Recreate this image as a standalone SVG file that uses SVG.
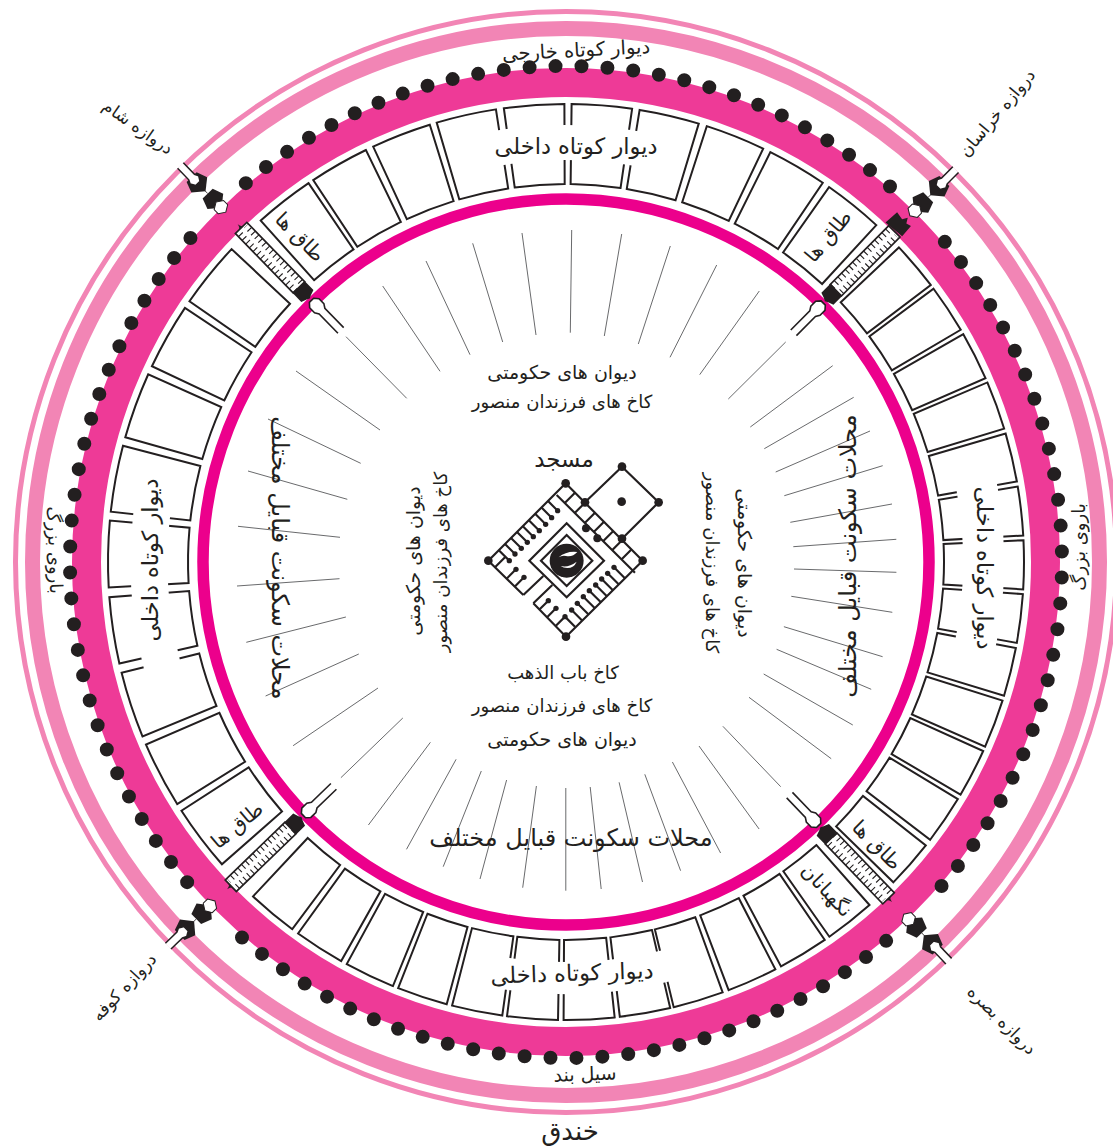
<svg xmlns="http://www.w3.org/2000/svg" xmlns:xlink="http://www.w3.org/1999/xlink" width="1113" height="1146" viewBox="0 0 1113 1146">
<style>
text{font-family:"DejaVu Sans","Noto Sans",sans-serif;fill:#231f20;text-anchor:middle}
.cell{fill:#fff;stroke:#231f20;stroke-width:2;stroke-linejoin:miter}
.ring{fill:none}
.ray{stroke:#58595b;stroke-width:.9;fill:none}
.brk{fill:none;stroke:#fff}
.dk{fill:#231f20}
.t17{font-size:17px}.t18{font-size:18px}.t19{font-size:19px}.t20{font-size:20px}.t22{font-size:22.5px}.t23{font-size:23px}.t24{font-size:24px}.t26{font-size:26px}
</style>
<defs>
<path id="cT" class="cell" d="M-30.35 -457A458 458 0 0 1 30.35 -457L25.05 -377.17A378 378 0 0 0 -25.05 -377.17Z"/>
<path id="cL" class="cell" d="M-33.54 -456.77A458 458 0 0 1 33.54 -456.77L27.68 -376.98A378 378 0 0 0 -27.68 -376.98Z"/>
<path id="cR" class="cell" d="M-24.61 -457.34A458 458 0 0 1 24.61 -457.34L20.31 -377.46A378 378 0 0 0 -20.31 -377.46Z"/>
<path id="cB" class="cell" d="M-25.57 -457.29A458 458 0 0 1 25.57 -457.29L21.1 -377.41A378 378 0 0 0 -21.1 -377.41Z"/>
<g id="gateInner">
<path d="M-4 -323V-350L-6.5 -354V-361L-3 -365H3L6.5 -361V-354L4 -350V-323" fill="#fff" stroke="#231f20" stroke-width="1.6"/>
<path class="dk" d="M-8.5 -371L-3 -369 0 -367.5 3 -369 8.5 -371V-383H-8.5Z"/>
<rect x="-8" y="-466" width="16" height="83" fill="#fff" stroke="#231f20" stroke-width="1.7"/>
<path d="M-5 -383V-464" fill="none" stroke="#231f20" stroke-width="6" stroke-dasharray="1.1 4.1"/>
<path d="M5 -383V-464" fill="none" stroke="#231f20" stroke-width="6" stroke-dasharray="1.1 4.1" stroke-dashoffset="2.5"/>
</g>
<g id="gateOuter">
<path d="M-11 -503L0 -494 11 -503 7 -514H-7Z" class="dk"/>
<path d="M0 -514V-518" stroke="#231f20" stroke-width=".8"/>
<path d="M-7 -537L-11 -526 0 -517 11 -526 7 -537Z" class="dk"/>
<path d="M-6.5 -492L-6.5 -498 0 -502 6.5 -498V-492L0 -488Z" fill="#fff" stroke="#231f20" stroke-width="1"/>
<path d="M-4 -553V-537L-6 -533 -3 -528H3L6 -533 4 -537V-553" fill="#fff" stroke="#231f20" stroke-width="1.5"/>
</g>
<path id="notch" d="M-3 -466Q-.5 -467 0 -471Q.5 -467 3 -466Z" class="dk"/>
</defs>

<g id="rings">
<circle class="ring" cx="566" cy="562" r="550.5" stroke="#f285b5" stroke-width="5"/>
<circle class="ring" cx="566" cy="562" r="533.5" stroke="#f285b5" stroke-width="15"/>
<circle class="ring" cx="566" cy="562" r="479.5" stroke="#ee3a97" stroke-width="29"/>
<circle class="ring" cx="566" cy="562" r="363" stroke="#ec008c" stroke-width="11.5"/>
</g>
<g id="tower-dots" fill="none" stroke="#231f20" stroke-width="14" stroke-linecap="round" stroke-dasharray="0 25.96">
<path d="M944.84 241.83A496 496 0 0 1 941.47 886.09"/>
<path d="M886.17 940.84A496 496 0 0 1 241.91 937.47"/>
<path d="M187.16 882.17A496 496 0 0 1 190.53 237.91"/>
<path d="M245.83 183.16A496 496 0 0 1 890.09 186.53"/>
</g>

<g id="cells" transform="translate(566 562)">
<use xlink:href="#cT" transform="rotate(-38)"/><use xlink:href="#cT" transform="rotate(-29.7)"/><use xlink:href="#cT" transform="rotate(-21.1)"/><use xlink:href="#cT" transform="rotate(-12.6)"/><use xlink:href="#cT" transform="rotate(-4)"/><use xlink:href="#cT" transform="rotate(4.5)"/><use xlink:href="#cT" transform="rotate(13.05)"/><use xlink:href="#cT" transform="rotate(21.7)"/><use xlink:href="#cT" transform="rotate(30.3)"/><use xlink:href="#cT" transform="rotate(38.85)"/>
<use xlink:href="#cR" transform="rotate(49.7)"/><use xlink:href="#cR" transform="rotate(56.45)"/><use xlink:href="#cR" transform="rotate(63.25)"/><use xlink:href="#cR" transform="rotate(70)"/><use xlink:href="#cR" transform="rotate(76.8)"/><use xlink:href="#cR" transform="rotate(83.6)"/><use xlink:href="#cR" transform="rotate(90.35)"/><use xlink:href="#cR" transform="rotate(97.1)"/><use xlink:href="#cR" transform="rotate(103.9)"/><use xlink:href="#cR" transform="rotate(110.7)"/><use xlink:href="#cR" transform="rotate(117.45)"/><use xlink:href="#cR" transform="rotate(124.25)"/><use xlink:href="#cR" transform="rotate(131.3)"/>
<use xlink:href="#cB" transform="rotate(141.7)"/><use xlink:href="#cB" transform="rotate(148.8)"/><use xlink:href="#cB" transform="rotate(156)"/><use xlink:href="#cB" transform="rotate(163.2)"/><use xlink:href="#cB" transform="rotate(170.05)"/><use xlink:href="#cB" transform="rotate(177.1)"/><use xlink:href="#cB" transform="rotate(184.2)"/><use xlink:href="#cB" transform="rotate(191.2)"/><use xlink:href="#cB" transform="rotate(198.3)"/><use xlink:href="#cB" transform="rotate(205.4)"/><use xlink:href="#cB" transform="rotate(212.6)"/><use xlink:href="#cB" transform="rotate(219.9)"/>
<use xlink:href="#cL" transform="rotate(232.9)"/><use xlink:href="#cL" transform="rotate(242.3)"/><use xlink:href="#cL" transform="rotate(251.8)"/><use xlink:href="#cL" transform="rotate(261.4)"/><use xlink:href="#cL" transform="rotate(271)"/><use xlink:href="#cL" transform="rotate(280.5)"/><use xlink:href="#cL" transform="rotate(290)"/><use xlink:href="#cL" transform="rotate(299.5)"/><use xlink:href="#cL" transform="rotate(308.9)"/>
</g>
<g id="text-breaks">
<path class="brk" stroke-width="35" d="M482.35 150.93A419.5 419.5 0 0 1 653.22 151.68"/>
<path class="brk" stroke-width="32" d="M680.66 961.9A416 416 0 0 1 493.78 971.68"/>
<path class="brk" stroke-width="41" d="M972.8 468.06A417.5 417.5 0 0 1 971.1 663"/>
<path class="brk" stroke-width="37" d="M163.2 669.9A417 417 0 0 1 154.1 496.8"/>
</g>

<g id="gate-khorasan" transform="translate(566 562) rotate(44.8)">
<use xlink:href="#gateInner"/><use xlink:href="#gateOuter"/>
<path class="dk" d="M-12.5 -466L9 -468 8 -481.5 3 -480 0 -485 -3 -480 -11.5 -481.5Z"/>
</g>
<g id="gate-basra" transform="translate(566 562) rotate(136.2)"><use xlink:href="#gateInner"/><use xlink:href="#notch"/><use xlink:href="#gateOuter"/></g>
<g id="gate-kufa" transform="translate(566 562) rotate(226)"><use xlink:href="#gateInner"/><use xlink:href="#notch"/><use xlink:href="#gateOuter"/></g>
<g id="gate-sham" transform="translate(566 562) rotate(315.8)"><use xlink:href="#gateInner"/><use xlink:href="#notch"/><use xlink:href="#gateOuter"/></g>

<g id="rays" class="ray">
<path d="M522 233L536 335M472.7 243.3L502.7 342M426 261L470 354.7M382.7 286L440 371.3M346 336.7L406.7 398.3M296 371L380 430M268 419L360.7 463.3M248 471L347.3 499.3M238 526.3L340 537.3"/>
<path d="M571.7 230L570.3 332.7M621.7 234L604.3 336M670.3 246L638.3 344M716.7 265L670 357.3M759.3 291L699.7 374.7M785.7 342L728.3 399M832.7 365.7L750.3 427M853.7 397.3L764.3 448.7M870 431L775.7 472M882.7 465.7L784.3 495.7M892 504L790.3 522.3M896.3 539.3L793.3 546.7"/>
<path d="M237 586L339.5 578.7M246.3 642.3L345.9 617M265.6 696L358.8 654M293.1 745.7L378 688M340.9 777.7L402.8 718M368.4 825L430.4 742.3M406.5 849.3L456.1 759.3M443.2 866.7L481.3 771M480 879L506.6 780M522.7 887.7L536.4 786M565.8 890.7V788M601.2 889L590.2 787M642.5 882L619.1 782.3M680.6 870.7L644.8 774.3M720.6 853L672.4 762M759.1 829L699 746M780.7 786.7L722.9 726.3M831.2 758.7L749 697.3M852.8 725L763.7 674M871.2 689.3L776.6 649.3M882.6 656.7L783.9 626.7M892.3 612.3L791.3 596.3M896.4 572.3L794 569"/>
</g>

<g id="mosque" transform="translate(460 440) scale(.3333)">
<g fill="none" stroke="#231f20" stroke-width="6.5">
<path d="M190 465L85 362 317 130 548 362 318 590 220 490"/>
<path d="M190 465L250 408M220 490L277 435M290 165L525 398"/>
<path d="M375 187L486 80 596 187 486 296"/>
<path d="M345 158L315 188M375 188L345 218M405 218L375 248M432 245L402 275M460 273L430 303M487 300L457 330M515 328L485 358"/>
<path d="M264 183L293 212M244.5 202.5L275 233M225.5 221.5L257 253M206.5 240.5L238 272M188.5 258.5L220 290M171 276L202 307M153 294L184 325M135 312L165 342M116.5 330.5L148 362M105 382L135 352"/>
<path d="M140 416L168 388M164 440L192 412M239 508L265 482M262 531L288 505M287 558L315 530L345 560"/>
<path d="M367 542L335 510M385 523L352 490M404 504L370 470M422 486L388 452M440 468L407 435M458 450L425 417M476 433L443 400M494 414L462 382"/>
<path d="M320 250L432 362 320 472 208 362Z"/>
<path d="M320 285L397 362 320 438 243 362Z"/>
</g>
<g class="dk">
<circle cx="317" cy="130" r="13"/><circle cx="85" cy="362" r="13"/><circle cx="318" cy="590" r="13"/><circle cx="548" cy="362" r="13"/>
<circle cx="486" cy="80" r="13"/><circle cx="375" cy="187" r="13"/><circle cx="486" cy="296" r="13"/><circle cx="596" cy="187" r="13"/><circle cx="485" cy="185" r="13"/>
<circle cx="378" cy="265" r="12"/><circle cx="412" cy="295" r="12"/>
<circle cx="293" cy="212" r="8"/><circle cx="275" cy="233" r="8"/><circle cx="257" cy="253" r="8"/><circle cx="238" cy="272" r="8"/><circle cx="220" cy="290" r="8"/><circle cx="202" cy="307" r="8"/><circle cx="184" cy="325" r="8"/><circle cx="165" cy="342" r="8"/><circle cx="148" cy="362" r="8"/>
<circle cx="168" cy="388" r="8"/><circle cx="192" cy="412" r="8"/><circle cx="265" cy="482" r="8"/><circle cx="288" cy="505" r="8"/><circle cx="315" cy="530" r="8"/>
<circle cx="335" cy="510" r="8"/><circle cx="352" cy="490" r="8"/><circle cx="370" cy="470" r="8"/><circle cx="388" cy="452" r="8"/><circle cx="407" cy="435" r="8"/><circle cx="425" cy="417" r="8"/><circle cx="443" cy="400" r="8"/><circle cx="462" cy="382" r="8"/>
<circle cx="320" cy="362" r="51"/>
</g>
<path d="M296 352Q320 332 352 336Q338 352 318 348Q305 346 296 352ZM302 378Q325 384 350 365Q342 384 322 384Q310 384 302 378Z" fill="#fff"/>
</g>

<g id="labels">
<text class="t19" style="font-size:19.5px" transform="translate(576 50) rotate(-3)" y=".35em">دیوار کوتاه خارجی</text>
<text class="t22" transform="translate(576 146)" y=".35em">دیوار کوتاه داخلی</text>
<text class="t22" transform="translate(572 973) rotate(-2)" y=".35em">دیوار کوتاه داخلی</text>
<text class="t22" transform="translate(985 568) rotate(90)" y=".35em">دیوار کوتاه داخلی</text>
<text class="t22" transform="translate(150 560) rotate(-90)" y=".35em">دیوار کوتاه داخلی</text>
<text class="t19" transform="translate(585 1074) rotate(-2)" y=".35em">سیل بند</text>
<text class="t26" transform="translate(570 1131)" y=".35em">خندق</text>
<text class="t18" transform="translate(1079 547) rotate(-90)" y=".35em">باروی بزرگ</text>
<text class="t18" transform="translate(55 550) rotate(88)" y=".35em">باروی بزرگ</text>
<text class="t17" transform="translate(997 113) rotate(-50)" y=".35em">دروازه خراسان</text>
<text class="t17" transform="translate(138 127) rotate(35)" y=".35em">دروازه شام</text>
<text class="t17" transform="translate(124 987) rotate(-47)" y=".35em">دروازه کوفه</text>
<text class="t17" transform="translate(1002 1020) rotate(45)" y=".35em">دروازه بصره</text>
<text class="t20" transform="translate(828 236) rotate(-50)" y=".35em">طاق ها</text>
<text class="t20" transform="translate(300 237) rotate(45)" y=".35em">طاق ها</text>
<text class="t20" transform="translate(237 825) rotate(-40)" y=".35em">طاق ها</text>
<text class="t20" transform="translate(877 845) rotate(45)" y=".35em">طاق ها</text>
<text class="t20" transform="translate(827 890) rotate(47)" y=".35em">نگهبانان</text>
<text class="t19" transform="translate(562 372)" y=".35em">دیوان های حکومتی</text>
<text class="t18" transform="translate(562 402)" y=".35em">کاخ های فرزندان منصور</text>
<text class="t23" transform="translate(564 459)" y=".35em">مسجد</text>
<text class="t18" transform="translate(563 673)" y=".35em">کاخ باب الذهب</text>
<text class="t18" transform="translate(562 706)" y=".35em">کاخ های فرزندان منصور</text>
<text class="t19" transform="translate(562 739)" y=".35em">دیوان های حکومتی</text>
<text class="t24" transform="translate(571 838)" y=".35em">محلات سکونت قبایل مختلف</text>
<text class="t24" transform="translate(280 558) rotate(90)" y=".35em">محلات سکونت قبایل مختلف</text>
<text class="t24" transform="translate(848 556) rotate(-90)" y=".35em">محلات سکونت قبایل مختلف</text>
<text class="t19" transform="translate(413 561) rotate(-90)" y=".35em">دیوان های حکومتی</text>
<text class="t18" transform="translate(441 562) rotate(-90)" y=".35em">کاخ های فرزندان منصور</text>
<text class="t18" transform="translate(712 563) rotate(90)" y=".35em">کاخ های فرزندان منصور</text>
<text class="t19" transform="translate(745 563) rotate(90)" y=".35em">دیوان های حکومتی</text>
</g>
</svg>
